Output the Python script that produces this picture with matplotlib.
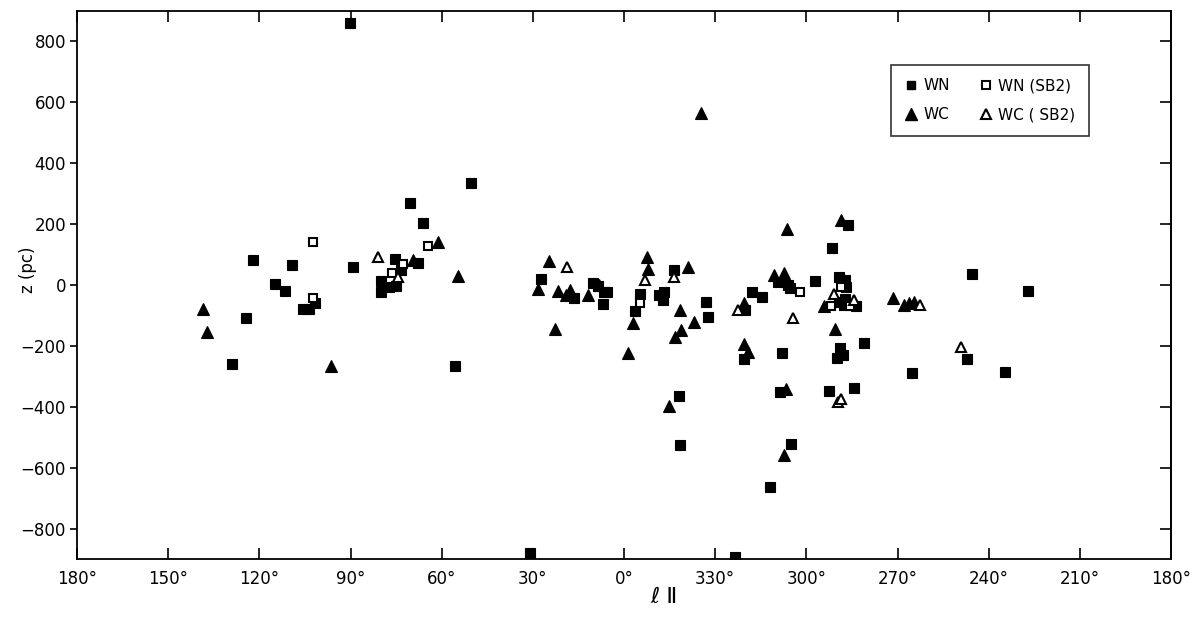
import numpy as np
import matplotlib
matplotlib.use("Agg")
import matplotlib.pyplot as plt
from matplotlib.lines import Line2D

# Galactic longitude l (deg) and height z (pc) for each class
wn_l = [90.1, 122.0, 109.2, 114.8, 111.5, 89.1, 79.9, 79.9, 75.3, 105.6, 103.6, 101.6,
        124.3, 128.9, 50.3, 70.4, 66.1, 67.8, 73.4, 77.3, 75.0, 55.6, 27.3, 16.4,
        10.2, 8.6, 6.6, 5.6, 6.9, 354.7, 356.4, 348.5, 346.8, 347.2, 343.6, 333.0,
        332.4, 317.9, 314.6, 320.2, 320.5, 308.0, 308.7, 305.1, 312.0, 341.9, 341.6,
        30.9, 323.5, 309.3, 306.1, 305.4, 297.2, 291.6, 286.3, 289.3, 287.3, 287.0,
        289.3, 287.3, 283.7, 287.6, 281.1, 289.0, 288.0, 289.9, 292.6, 284.3, 245.5,
        247.2, 265.3, 234.7, 227.1]
wn_z = [860, 82, 66, 3, -20, 59, 13, -23, 85, -79, -79, -59,
        -108, -259, 335, 269, 204, 72, 49, -7, -3, -266, 20, -43,
        7, -3, -23, -23, -62, -30, -85, -33, -23, -49, 48, -56,
        -105, -23, -39, -82, -243, -223, -351, -522, -663, -364, -525,
        -880, -893, 10, 0, -10, 13, 122, 197, 26, 16, -7,
        -56, -46, -69, -66, -190, -207, -230, -240, -348, -338, 36,
        -243, -289, -286, -20]

wn_sb2_l = [102.3, 102.3, 64.5, 72.7, 76.3, 354.7, 302.1, 288.6, 291.9, 285.7]
wn_sb2_z = [141, -43, 128, 69, 39, -59, -23, -7, -69, -69]

wc_l = [138.5, 137.2, 96.4, 61.2, 69.4, 54.6, 24.7, 28.3, 21.7, 17.8, 19.1, 11.8,
        8.2, 22.7, 352.4, 352.1, 357.0, 358.7, 339.0, 341.6, 337.0, 341.3, 343.2,
        345.2, 334.7, 320.5, 320.5, 319.2, 306.7, 307.4, 306.4, 310.7, 307.4, 288.6,
        290.6, 294.2, 271.5, 267.9, 266.2, 264.6]
wc_z = [-79, -154, -266, 141, 82, 30, 79, -13, -20, -16, -33, -33,
        0, -144, 92, 53, -125, -223, 59, -82, -122, -148, -171,
        -397, 565, -59, -194, -220, -342, -558, 184, 33, 39, 213,
        -145, -69, -43, -66, -59, -56]

wc_sb2_l = [80.9, 74.3, 18.8, 353.1, 343.6, 322.5, 304.4, 290.9, 284.3, 262.6, 289.6, 288.6, 249.1]
wc_sb2_z = [92, 26, 59, 16, 26, -82, -108, -30, -49, -66, -384, -374, -204]

xtick_vals = [180, 150, 120, 90, 60, 30, 0, 330, 300, 270, 240, 210, 180]
ytick_vals = [800, 600, 400, 200, 0, -200, -400, -600, -800]


def to_x(l):
    l = np.asarray(l, dtype=float)
    return np.where(l > 180, l - 360, l)


plt.rcParams['font.family'] = ['DejaVu Sans']
fig = plt.figure(figsize=(12, 6.2), dpi=100)
ax = fig.add_axes([77 / 1200, 1 - 559 / 620, (1171 - 77) / 1200, (559 - 11) / 620])

ax.plot(to_x(wn_l), wn_z, ls='none', marker='s', ms=6.5, mfc='black', mec='black',
        mew=0.8, zorder=3)
ax.plot(to_x(wn_sb2_l), wn_sb2_z, ls='none', marker='s', ms=5.5, mfc='white', mec='black',
        mew=1.5, zorder=4)
ax.plot(to_x(wc_l), wc_z, ls='none', marker='^', ms=8, mfc='black', mec='black',
        mew=0.8, zorder=3)
ax.plot(to_x(wc_sb2_l), wc_sb2_z, ls='none', marker='^', ms=7.5, mfc='white', mec='black',
        mew=1.5, zorder=4)

ax.set_xlim(180, -180)
ax.set_ylim(-900, 900)

xt_pos = [180, 150, 120, 90, 60, 30, 0, -30, -60, -90, -120, -150, -180]
ax.set_xticks(xt_pos)
ax.set_xticklabels([f"{v}°" for v in xtick_vals], fontsize=12)
ax.set_yticks(ytick_vals)
ax.set_yticklabels([str(v).replace('-', '\u2212') for v in ytick_vals], fontsize=12)

ax.tick_params(axis='x', direction='in', length=8, width=1.2, top=True, bottom=True, pad=8)
ax.tick_params(axis='y', direction='out', length=5, width=1.2, left=True, right=False,
               labelleft=True, pad=3)
# right-side inward ticks
sec = ax.secondary_yaxis('right')
sec.set_yticks(ytick_vals)
sec.tick_params(axis='y', direction='in', length=8, width=1.2, labelright=False)
sec.spines['right'].set_linewidth(1.3)

for s in ax.spines.values():
    s.set_linewidth(1.3)

fig.text(28 / 1200, 1 - 270 / 620, 'z (pc)', fontsize=12, rotation=90,
         ha='center', va='center')
fig.text(664 / 1200, 1 - 597 / 620, 'ℓ Ⅱ', fontsize=16, ha='center', va='center')

handles = [
    Line2D([], [], ls='none', marker='s', ms=6, mfc='black', mec='black'),
    Line2D([], [], ls='none', marker='^', ms=8, mfc='black', mec='black'),
    Line2D([], [], ls='none', marker='s', ms=5.5, mfc='white', mec='black', mew=1.5),
    Line2D([], [], ls='none', marker='^', ms=7.5, mfc='white', mec='black', mew=1.5),
]
labels = ['WN', 'WC', 'WN (SB2)', 'WC ( SB2)']
leg = ax.legend(handles, labels, ncol=2, loc='upper left', bbox_to_anchor=(0.737, 0.916),
                fontsize=11, frameon=True, fancybox=False, edgecolor='black',
                handlelength=0.8, handletextpad=0.4, columnspacing=2.0,
                borderpad=0.9, labelspacing=0.9)
leg.get_frame().set_linewidth(1.2)

fig.savefig('out.png', dpi=100)
